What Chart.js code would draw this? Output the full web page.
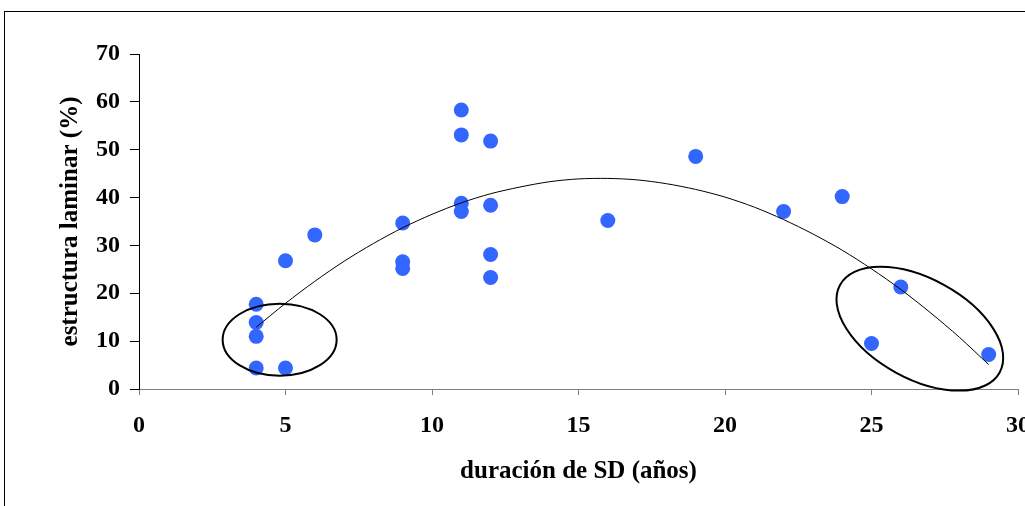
<!DOCTYPE html>
<html>
<head>
<meta charset="utf-8">
<script src="https://cdn.jsdelivr.net/npm/chart.js@4/dist/chart.umd.min.js"></script>
<style>
    html, body { margin: 0; padding: 0; background: #fff; overflow: hidden; }
    #wrap { position: relative; width: 1025px; height: 506px; overflow: hidden; }
    #frame { position: absolute; left: 4px; top: 11px; width: 2000px; height: 2000px; border: 1px solid #000; }
    #laminarChart { position: absolute; left: 0; top: 0; }
</style>
</head>
<body>
<div id="wrap">
    <div id="frame"></div>
    <canvas id="laminarChart" width="1046" height="506"></canvas>
</div>
<script>
// duración de SD (años) vs estructura laminar (%)
const sdYears = [4, 4, 4, 4, 5, 5, 6, 9, 9, 9, 11, 11, 11, 11, 12, 12, 12, 12, 16, 19, 22, 24, 25, 26, 29];
const laminarPct = [17.7, 13.9, 11.0, 4.4, 4.4, 26.8, 32.2, 34.7, 26.6, 25.2, 58.3, 53.1, 38.8, 37.1, 51.8, 38.4, 28.1, 23.3, 35.2, 48.6, 37.1, 40.2, 9.5, 21.3, 7.2];

// polynomial trend line
const trendYears = [4, 5, 6, 7, 8, 9, 10, 11, 12, 13, 14, 15, 16, 17, 18, 19, 20, 21, 22, 23, 24, 25, 26, 27, 28, 29];
const trendPct = [12.9, 17.9, 22.5, 26.7, 30.4, 33.7, 36.5, 38.9, 40.8, 42.2, 43.3, 43.9, 44.0, 43.7, 42.9, 41.7, 40.1, 38.0, 35.4, 32.4, 29.0, 25.1, 20.8, 16.0, 10.8, 5.1];

const xTicks = [0, 5, 10, 15, 20, 25, 30];
const yTicks = [0, 10, 20, 30, 40, 50, 60, 70];

// hand-drawn ellipses around the groups (center in data units)
const ellipses = [
    { x: 4.8, y: 10.3, rx: 57, ry: 36, angle: 0 },
    { x: 26.65, y: 12.6, rx: 91, ry: 50, angle: 28.7 }
];

const ellipsePlugin = {
    id: 'ellipses',
    afterDatasetsDraw(chart) {
        const ctx = chart.ctx;
        const xs = chart.scales.x, ys = chart.scales.y;
        ctx.save();
        ctx.strokeStyle = '#000';
        ctx.lineWidth = 2;
        ellipses.forEach(function (e) {
            ctx.beginPath();
            ctx.ellipse(xs.getPixelForValue(e.x), ys.getPixelForValue(e.y), e.rx, e.ry, e.angle * Math.PI / 180, 0, Math.PI * 2);
            ctx.stroke();
        });
        ctx.restore();
    }
};

const serif = "'Liberation Serif', 'Times New Roman', serif";
const tickFont = { family: serif, size: 24, weight: 'bold' };
const titleFont = { family: serif, size: 25, weight: 'bold' };

new Chart(document.getElementById('laminarChart').getContext('2d'), {
    type: 'scatter',
    data: {
        datasets: [{
            label: 'tendencia',
            type: 'line',
            data: trendYears.map((x, i) => ({ x: x, y: trendPct[i] })),
            borderColor: '#000',
            borderWidth: 1,
            pointRadius: 0,
            tension: 0.3,
            fill: false,
            order: 0
        }, {
            label: 'estructura laminar',
            data: sdYears.map((x, i) => ({ x: x, y: laminarPct[i] })),
            backgroundColor: '#3366FF',
            borderWidth: 0,
            pointRadius: 7.5,
            pointHoverRadius: 7.5,
            order: 1
        }]
    },
    options: {
        responsive: false,
        animation: false,
        events: [],
        layout: { padding: { left: 0, top: 54, right: 0, bottom: 0 } },
        plugins: { legend: { display: false }, tooltip: { enabled: false } },
        scales: {
            x: {
                type: 'linear',
                min: 0,
                max: 30,
                afterBuildTicks: function (scale) { scale.ticks = xTicks.map(v => ({ value: v })); },
                afterFit: function (scale) { scale.height = 117; },
                grid: { drawOnChartArea: false, tickLength: 6, color: '#808080' },
                border: { color: '#808080', width: 1 },
                ticks: { color: '#000', font: tickFont, padding: 16, maxRotation: 0 },
                title: { display: true, text: 'duración de SD (años)', color: '#000', font: titleFont, padding: { top: 0, bottom: 19 } }
            },
            y: {
                min: 0,
                max: 70,
                afterBuildTicks: function (scale) { scale.ticks = yTicks.map(v => ({ value: v })); },
                afterFit: function (scale) { scale.width = 139; },
                grid: { drawOnChartArea: false, tickLength: 9, color: '#000' },
                border: { color: '#000', width: 1 },
                ticks: { color: '#000', font: tickFont, padding: 10 },
                title: { display: true, text: 'estructura laminar (%)', color: '#000', font: titleFont, padding: { top: 56, bottom: 0 } }
            }
        }
    },
    plugins: [ellipsePlugin]
});
</script>
</body>
</html>
